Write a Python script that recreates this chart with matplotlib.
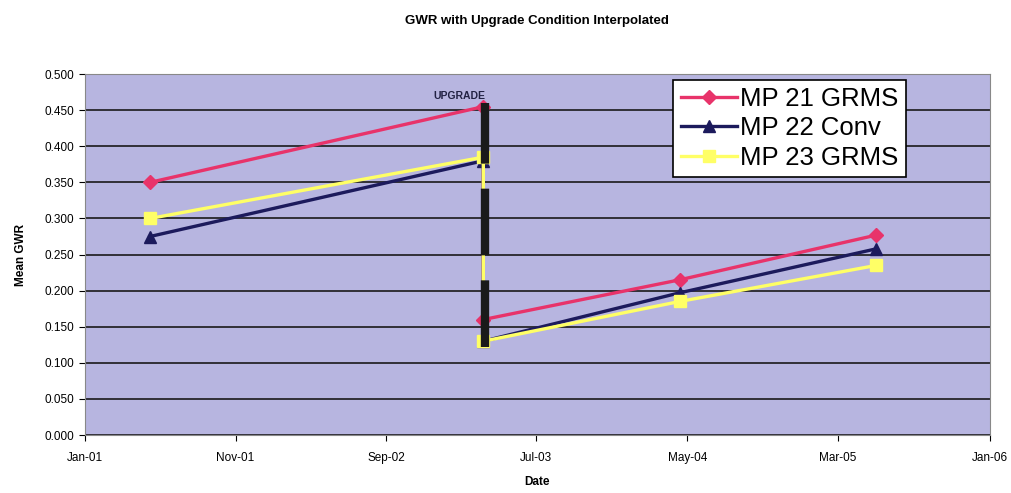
import datetime as dt
import matplotlib
matplotlib.use("Agg")
import matplotlib.pyplot as plt
import matplotlib.dates as mdates
from matplotlib.ticker import MultipleLocator, FormatStrFormatter

# data
dates = [dt.date(2001, 5, 12), dt.date(2003, 3, 16), dt.date(2003, 3, 16),
         dt.date(2004, 4, 15), dt.date(2005, 5, 17)]
mp21 = [0.350, 0.455, 0.160, 0.215, 0.277]
mp22 = [0.275, 0.380, 0.130, 0.197, 0.258]
mp23 = [0.300, 0.385, 0.130, 0.185, 0.235]
upgrade_date = dt.date(2003, 3, 20)
upgrade_range = [0.122, 0.460]
tick_dates = [dt.date(2001, 1, 1), dt.date(2001, 11, 1), dt.date(2002, 9, 1),
              dt.date(2003, 7, 1), dt.date(2004, 5, 1), dt.date(2005, 3, 1),
              dt.date(2006, 1, 1)]

plt.rcParams['font.family'] = ['Liberation Sans', 'DejaVu Sans']

fig = plt.figure(figsize=(10.11, 4.93), dpi=100)
ax = fig.add_axes([0.084, 0.1176, 0.895, 0.732])
ax.set_facecolor('#b7b5e0')

ax.plot(dates, mp21, color='#e8336a', lw=2.4, marker='D', ms=7, label='MP 21 GRMS', zorder=3)
ax.plot(dates, mp22, color='#1c1a5c', lw=2.4, marker='^', ms=9, label='MP 22 Conv', zorder=4)
ax.plot(dates, mp23, color='#ffff66', lw=2.4, marker='s', ms=9, label='MP 23 GRMS', zorder=5)

ax.plot([upgrade_date, upgrade_date], upgrade_range, color='#1a1a1a', lw=6,
        linestyle=(0, (8, 3)), solid_capstyle='butt', zorder=6)
ax.text(upgrade_date, 0.463, 'UPGRADE', ha='right', va='bottom', fontsize=7.5,
        fontweight='bold', color='#222244')

ax.set_xlim(tick_dates[0], tick_dates[-1])
ax.set_ylim(0, 0.5)
ax.set_xticks(tick_dates)
ax.xaxis.set_major_formatter(mdates.DateFormatter('%b-%y'))
ax.yaxis.set_major_locator(MultipleLocator(0.05))
ax.yaxis.set_major_formatter(FormatStrFormatter('%.3f'))
ax.tick_params(labelsize=8.5, length=4)
ax.tick_params(axis='x', pad=8)
ax.yaxis.grid(True, color='#1a1a1a', lw=1.2)
ax.set_axisbelow(True)
for s in ax.spines.values():
    s.set_color('#888888')

ax.set_title('GWR with Upgrade Condition Interpolated', fontsize=9.5,
             fontweight='bold', pad=36)
ax.set_xlabel('Date', fontsize=8.5, fontweight='bold', labelpad=9)
ax.set_ylabel('Mean GWR', fontsize=8.5, fontweight='bold', labelpad=13)

leg = ax.legend(loc='upper left', bbox_to_anchor=(0.65, 0.985), fontsize=18.5,
                frameon=True, fancybox=False, borderpad=0.3, labelspacing=0.2,
                handlelength=2.2, handletextpad=0.1, borderaxespad=0)
leg.get_frame().set_edgecolor('black')
leg.get_frame().set_linewidth(1.2)
leg.get_frame().set_alpha(1)

fig.savefig('out.png', dpi=100)
